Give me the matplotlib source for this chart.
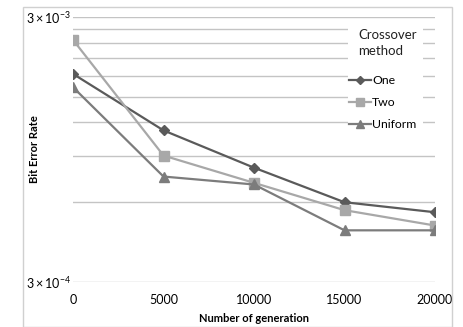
import matplotlib.pyplot as plt
import numpy as np
from matplotlib.ticker import FixedLocator, NullFormatter

plt.rcParams['font.family'] = ['Lato', 'DejaVu Sans']
plt.rcParams['mathtext.fontset'] = 'custom'
plt.rcParams['mathtext.rm'] = 'Lato'
plt.rcParams['mathtext.it'] = 'Lato:italic'

# data
generations = [0, 5000, 10000, 15000, 20000]
ber_one = [1.83e-3, 1.12e-3, 8.1e-4, 6.0e-4, 5.5e-4]
ber_two = [2.46e-3, 9.0e-4, 7.1e-4, 5.6e-4, 4.9e-4]
ber_uniform = [1.63e-3, 7.5e-4, 7.0e-4, 4.7e-4, 4.7e-4]
series_names = ['One', 'Two', 'Uniform']

fig = plt.figure(figsize=(4.63, 3.27), dpi=100)
# light border round the whole chart
fig.patches.append(plt.Rectangle((23 / 463, 0), 429 / 463, 1 - 7 / 327,
                                 transform=fig.transFigure, fill=False,
                                 edgecolor='#d0d0d0', linewidth=1))
ax = fig.add_axes([73 / 463, 1 - 282 / 327, 362 / 463, 265 / 327])

ax.plot(generations, ber_one, color='#5a5a5a', marker='D', markersize=5,
        linewidth=1.6, label=series_names[0])
ax.plot(generations, ber_two, color='#a8a8a8', marker='s', markersize=7,
        linewidth=1.6, label=series_names[1])
ax.plot(generations, ber_uniform, color='#7c7c7c', marker='^', markersize=7,
        linewidth=1.6, label=series_names[2])

ax.set_yscale('log')
ax.set_ylim(3e-4, 3e-3)
ax.set_xlim(0, 20000)
ax.set_xticks(generations)
ax.set_xticklabels([str(g) for g in generations])
ax.yaxis.set_major_locator(FixedLocator([3e-4, 3e-3]))
ax.yaxis.set_minor_locator(FixedLocator([3e-4 * k for k in range(2, 10)]))
ax.yaxis.set_minor_formatter(NullFormatter())
ax.set_yticklabels([r'$3\times10^{-4}$', r'$3\times10^{-3}$'])
ax.grid(True, which='both', axis='y', color='#c4c4c4', linewidth=1)
ax.set_axisbelow(True)
ax.tick_params(axis='both', which='both', length=0, labelsize=9, pad=1.5)
ax.tick_params(axis='x', pad=9)
for s in ax.spines.values():
    s.set_visible(False)

ax.set_xlabel('Number of generation', fontsize=8, fontweight='bold', labelpad=5)
ax.set_ylabel('Bit Error Rate', fontsize=8, fontweight='bold')
ax.yaxis.set_label_coords(-0.091, 0.5)

# white area behind the legend, the grid stops there
ax.add_patch(plt.Rectangle((348 / 463, 1 - 137 / 327), 75 / 463, 112 / 327,
                           transform=fig.transFigure, facecolor='white',
                           edgecolor='none', zorder=1.5))
fig.text(358 / 463, 1 - 43 / 327, 'Crossover\nmethod', fontsize=9.5,
         ha='left', va='center', linespacing=1.45, color='#222222')

leg = ax.legend(loc='upper left',
                bbox_to_anchor=(349 / 463, 1 - 75 / 327), bbox_transform=fig.transFigure,
                fontsize=8.8, frameon=False,
                handlelength=1.8, handletextpad=0.1, labelspacing=0.9,
                borderpad=0, borderaxespad=0, markerscale=0.75)

fig.savefig('out.png', dpi=100)
